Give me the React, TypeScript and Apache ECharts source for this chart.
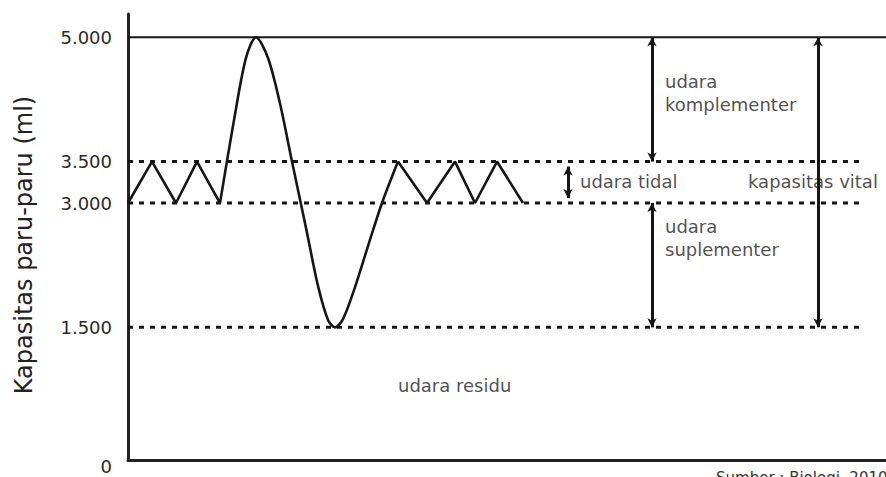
import React, { useEffect, useRef } from "react";
import * as echarts from "echarts";

// ---- data ----
const xMax = 758;
const yMin = -100;
const yMax = 5280;
const yTicks = [0, 1500, 3000, 3500, 5000];
const yTitle = "Kapasitas paru-paru (ml)";

// breathing curve (time units, volume ml)
const tidalLeft: number[][] = [[0, 3000], [24, 3500], [48, 3000], [69, 3500], [92, 3000]];
const deepBreath: number[][] = [
  [92, 3000], [106, 4000], [118, 4750], [128, 5000], [140, 4750], [152, 4200],
  [164, 3500], [178, 2700], [190, 2000], [200, 1590], [207, 1500], [215, 1600],
  [226, 1950], [240, 2480], [254, 3000], [270, 3500],
];
const tidalRight: number[][] = [[270, 3500], [299, 3000], [327, 3500], [347, 3000], [369, 3500], [395, 3000]];

// reference levels
const solidLevel = 5000;
const dashedLevels = [3500, 3000, 1500];
const dashedEnd = 734;

// double arrows: x, from, to
const arrowX = [524, 524, 440, 690];
const arrowFrom = [5000, 3000, 3440, 5000];
const arrowTo = [3500, 1500, 3060, 1500];

// annotations
const noteText = ["udara\nkomplementer", "udara\nsuplementer", "udara tidal", "kapasitas vital", "udara residu"];
const noteX = [537, 537, 452, 620, 270];
const noteY = [4324, 2575, 3263, 3263, 802];

const sourceText = "Sumber : Biologi, 2010";

const fmt = (v: number) => {
  if (v === 0) return "\n0";
  const s = String(v);
  return s.length > 3 ? s.slice(0, s.length - 3) + "." + s.slice(s.length - 3) : s;
};

const FONT = "DejaVu Sans";
const INK = "#161616";

export default function App() {
  const ref = useRef<HTMLDivElement>(null);
  useEffect(() => {
    if (!ref.current) return;
    const chart = echarts.init(ref.current, null, { renderer: "svg" });
    const series: any[] = [
      {
        type: "line",
        data: [[0, solidLevel], [xMax, solidLevel]],
        symbol: "none",
        lineStyle: { color: INK, width: 2 },
        silent: true,
        markLine: {
          silent: true,
          symbol: ["arrow", "arrow"],
          symbolSize: [7, 9],
          label: { show: false },
          lineStyle: { color: INK, width: 3, type: "solid" },
          data: arrowX.map((x, i) => [
            { coord: [x, arrowFrom[i]] },
            { coord: [x, arrowTo[i]] },
          ]),
        },
      },
      ...dashedLevels.map((lv) => ({
        type: "line",
        data: [[0, lv], [dashedEnd, lv]],
        symbol: "none",
        silent: true,
        lineStyle: { color: INK, width: 3, type: [5, 6] },
      })),
      {
        type: "line",
        data: tidalLeft,
        symbol: "none",
        lineStyle: { color: INK, width: 2.6 },
      },
      {
        type: "line",
        data: deepBreath,
        symbol: "none",
        smooth: 0.3,
        lineStyle: { color: INK, width: 2.6 },
      },
      {
        type: "line",
        data: tidalRight,
        symbol: "none",
        lineStyle: { color: INK, width: 2.6 },
      },
      {
        type: "scatter",
        symbolSize: 0,
        silent: true,
        data: noteText.map((t, i) => ({ value: [noteX[i], noteY[i]], name: t })),
        label: {
          show: true,
          position: [0, 0],
          align: "left",
          verticalAlign: "middle",
          formatter: (p: any) => p.name,
          fontFamily: FONT,
          fontSize: 18,
          lineHeight: 23,
          color: "#222",
        },
      },
    ];
    chart.setOption({
      animation: false,
      backgroundColor: "#ffffff",
      grid: { left: 128, right: 0, top: 14, bottom: 17, containLabel: false, outerBoundsMode: "none" },
      xAxis: {
        type: "value",
        min: 0,
        max: xMax,
        axisLine: { show: true, onZero: false, lineStyle: { color: "#222", width: 3 } },
        axisTick: { show: false },
        axisLabel: { show: false },
        splitLine: { show: false },
      },
      yAxis: {
        type: "value",
        min: yMin,
        max: yMax,
        name: yTitle,
        nameLocation: "middle",
        nameGap: 92,
        nameTextStyle: { fontFamily: FONT, fontSize: 24, color: "#222", padding: [0, 16, 0, 0] },
        axisLine: { show: true, onZero: false, lineStyle: { color: "#222", width: 3 } },
        axisTick: { show: false },
        splitLine: { show: false },
        axisLabel: {
          customValues: yTicks,
          formatter: fmt,
          margin: 16,
          fontFamily: FONT,
          fontSize: 18,
          lineHeight: 30,
          color: "#2a2a2a",
        },
      },
      graphic: [
        {
          type: "text",
          left: 716,
          top: 470,
          style: { text: sourceText, fontFamily: FONT, fontSize: 15, fill: "#333" },
        },
      ],
      series,
    });
    return () => chart.dispose();
  }, []);
  return (
    <div
      ref={ref}
      style={{ position: "absolute", left: 0, top: 0, width: 886, height: 477 }}
    />
  );
}
